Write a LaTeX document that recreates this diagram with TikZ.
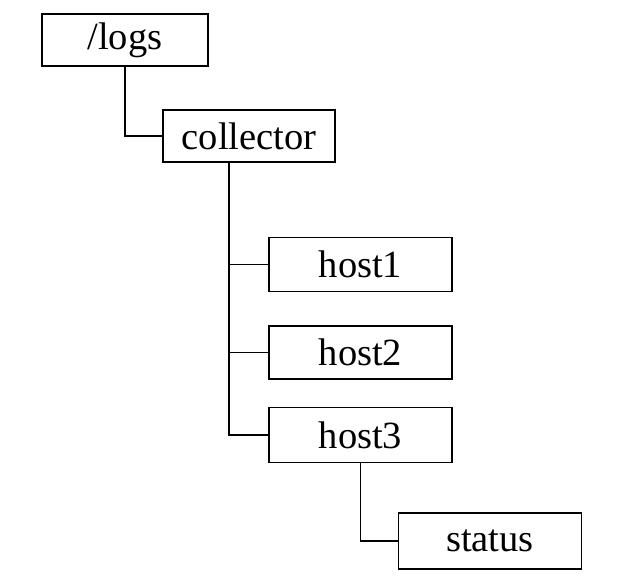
\documentclass[tikz,border=0pt]{standalone}
\usepackage{fontspec}
\setmainfont{Liberation Serif}
\usepackage{xcolor}

\begin{document}
\begin{tikzpicture}[x=1pt,y=-1pt,line width=1.6pt,
    dirbox/.style={draw, inner sep=0pt, font=\fontsize{38.5}{40}\selectfont}]
    \useasboundingbox (0,0) rectangle (618,588);
    % Draw the directory boxes
    \node[dirbox, minimum width=166pt, minimum height=52pt] (logs) at (125,40) {/logs};
    \node[dirbox, minimum width=172pt, minimum height=52pt] (collector) at (249,136) {collector};
    \node[dirbox, minimum width=183pt, minimum height=54pt] (host1) at (360.5,264.5) {host1};
    \node[dirbox, minimum width=183pt, minimum height=53pt] (host2) at (360.5,352.5) {host2};
    \node[dirbox, minimum width=183pt, minimum height=55pt] (host3) at (360.5,435) {host3};
    \node[dirbox, minimum width=183pt, minimum height=56pt] (status) at (490,541) {status};
    % Tree lines
    \draw (logs.south) |- (collector.west);
    \coordinate (trunk) at ([xshift=-20pt]collector.south);
    \draw (trunk) |- (host1.west);
    \draw (trunk) |- (host2.west);
    \draw (trunk) |- (host3.west);
    \draw (host3.south) |- (status.west);
\end{tikzpicture}
\end{document}
